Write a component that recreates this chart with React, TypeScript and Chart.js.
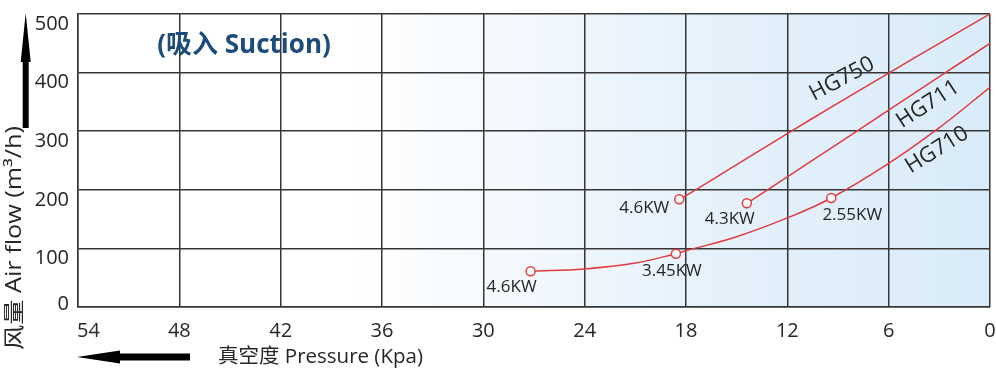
import React, { useEffect, useRef } from 'react';
import { Chart, registerables } from 'chart.js';

Chart.register(...registerables);

// ---------- data ----------
const pressureTicks = [54, 48, 42, 36, 30, 24, 18, 12, 6, 0];
const flowTicks = [0, 100, 200, 300, 400, 500];

const hg750Pressure = [18.4, 18, 15, 12, 9, 6, 3, 0];
const hg750Flow = [184, 190, 243, 296, 348, 399, 450, 500];
const hg750Power = ['4.6KW', '', '', '', '', '', '', ''];

const hg711Pressure = [14.4, 12, 9, 6, 3, 0];
const hg711Flow = [177, 222, 279, 336, 393, 450];
const hg711Power = ['4.3KW', '', '', '', '', ''];

const hg710Pressure = [27.2, 24, 21, 18.6, 18, 15, 12, 9.4, 6, 3, 0];
const hg710Flow = [61, 65, 75, 91, 96, 120, 152, 186, 245, 306, 375];
const hg710Power = ['4.6KW', '', '', '3.45KW', '', '', '', '2.55KW', '', '', ''];

const curveNames = ['HG750', 'HG711', 'HG710'];
const curveNamePressure = [8.76, 3.67, 3.14];
const curveNameFlow = [389, 346, 268];

const titleText = '(吸入 Suction)';
const xTitleText = '真空度 Pressure (Kpa)';
const yTitleText = '风量 Air flow (m³/h)';

// ---------- styles ----------
const FONT = '"Open Sans", "Noto Sans CJK SC", sans-serif';
const RED = '#e23b3d';
const GRID = '#363636';
const TEXT = '#262626';
const powerOffsets: Record<string, [number, number][]> = {
  HG750: [[-35, 9]],
  HG711: [[-17, 16]],
  HG710: [[-19, 16], [-4, 17], [21, 17]],
};
const curveNameAngles = [-28, -33, -32];

const decor = {
  id: 'decor',
  beforeDraw(chart: any) {
    const { ctx, chartArea: a } = chart;
    const g = ctx.createLinearGradient(a.left, 0, a.right, 0);
    g.addColorStop(0, '#ffffff');
    g.addColorStop(0.3, '#ffffff');
    g.addColorStop(0.7, '#e5f1fb');
    g.addColorStop(1, '#d9ecf9');
    ctx.save();
    ctx.fillStyle = g;
    ctx.fillRect(a.left, a.top, a.right - a.left, a.bottom - a.top);
    ctx.restore();
  },
  afterDraw(chart: any) {
    const { ctx } = chart;
    const xs = chart.scales.x;
    const ys = chart.scales.y;
    ctx.save();

    // tick labels
    ctx.fillStyle = TEXT;
    ctx.font = `20px ${FONT}`;
    ctx.textBaseline = 'middle';
    xs.ticks.forEach((t: any) => {
      const px = xs.getPixelForValue(t.value);
      if (t.value === 54) {
        ctx.textAlign = 'left';
        ctx.fillText(String(t.value), px - 1, 331);
      } else {
        ctx.textAlign = 'center';
        ctx.fillText(String(t.value), px, 331);
      }
    });
    ctx.textAlign = 'right';
    ys.ticks.forEach((t: any) => {
      const py = ys.getPixelForValue(t.value);
      ctx.fillText(String(t.value), 69, py + (t.value === 0 ? -3 : 10));
    });

    // title
    ctx.fillStyle = '#1b4c7c';
    ctx.font = `bold 26px ${FONT}`;
    ctx.textAlign = 'center';
    ctx.fillText(titleText, 244, 46);

    // axis titles
    ctx.fillStyle = TEXT;
    ctx.font = `20.5px ${FONT}`;
    ctx.textAlign = 'left';
    ctx.fillText(xTitleText, 218, 357);
    ctx.save();
    ctx.translate(15, 238);
    ctx.rotate(-Math.PI / 2);
    ctx.scale(1.2, 1);
    ctx.font = `21px ${FONT}`;
    ctx.textAlign = 'center';
    ctx.fillText(yTitleText, 0, 0);
    ctx.restore();

    // arrows
    ctx.fillStyle = '#000';
    ctx.fillRect(22.7, 58, 6, 70);
    ctx.beginPath();
    ctx.moveTo(25.7, 13);
    ctx.lineTo(30.7, 62);
    ctx.lineTo(20.7, 62);
    ctx.closePath();
    ctx.fill();
    ctx.fillRect(115, 353.5, 75, 7);
    ctx.beginPath();
    ctx.moveTo(77, 357);
    ctx.lineTo(120, 350.5);
    ctx.lineTo(120, 363.5);
    ctx.closePath();
    ctx.fill();

    // power labels
    ctx.fillStyle = TEXT;
    ctx.font = `17px ${FONT}`;
    ctx.textAlign = 'center';
    chart.data.datasets.forEach((ds: any, di: number) => {
      const meta = chart.getDatasetMeta(di);
      const offs = powerOffsets[ds.label] || [];
      let k = 0;
      ds.power.forEach((p: string, i: number) => {
        if (!p) return;
        const el = meta.data[i];
        const o = offs[k++] || [0, 16];
        ctx.fillText(p, el.x + o[0], el.y + o[1]);
      });
    });

    // curve names
    ctx.font = `22px ${FONT}`;
    curveNames.forEach((n, i) => {
      const px = xs.getPixelForValue(curveNamePressure[i]);
      const py = ys.getPixelForValue(curveNameFlow[i]);
      ctx.save();
      ctx.translate(px, py);
      ctx.rotate((curveNameAngles[i] * Math.PI) / 180);
      ctx.textAlign = 'center';
      ctx.fillText(n, 0, 0);
      ctx.restore();
    });

    ctx.restore();
  },
};

function makeSet(label: string, p: number[], f: number[], power: string[]) {
  return {
    label,
    power,
    data: p.map((v, i) => ({ x: v, y: f[i] })),
    borderColor: RED,
    borderWidth: 1.5,
    backgroundColor: '#ffffff',
    pointBackgroundColor: '#ffffff',
    pointBorderColor: RED,
    pointBorderWidth: 1.5,
    pointRadius: power.map((s) => (s ? 4.5 : 0)),
    pointHoverRadius: power.map((s) => (s ? 4.5 : 0)),
    tension: 0.4,
    fill: false,
  };
}

export default function App() {
  const ref = useRef<HTMLCanvasElement | null>(null);
  useEffect(() => {
    if (!ref.current) return;
    const chart = new Chart(ref.current, {
      type: 'line',
      data: {
        datasets: [
          makeSet('HG750', hg750Pressure, hg750Flow, hg750Power),
          makeSet('HG711', hg711Pressure, hg711Flow, hg711Power),
          makeSet('HG710', hg710Pressure, hg710Flow, hg710Power),
        ] as any,
      },
      options: {
        responsive: false,
        animation: false,
        devicePixelRatio: 1,
        layout: { padding: { top: 14, right: 6, left: 0, bottom: 0 } },
        plugins: { legend: { display: false }, tooltip: { enabled: false } },
        scales: {
          x: {
            type: 'linear',
            reverse: true,
            min: 0,
            max: 54,
            afterBuildTicks: (s: any) => {
              s.ticks = pressureTicks.map((v) => ({ value: v }));
            },
            afterFit: (s: any) => {
              s.height = 62;
            },
            ticks: { display: false },
            grid: { color: GRID, lineWidth: 1.5, drawTicks: false },
            border: { color: GRID, width: 1.5 },
          },
          y: {
            type: 'linear',
            min: 0,
            max: 500,
            afterBuildTicks: (s: any) => {
              s.ticks = flowTicks.map((v) => ({ value: v }));
            },
            afterFit: (s: any) => {
              s.width = 78;
            },
            ticks: { display: false },
            grid: { color: GRID, lineWidth: 1.5, drawTicks: false },
            border: { color: GRID, width: 1.5 },
          },
        },
      } as any,
      plugins: [decor],
    });
    return () => chart.destroy();
  }, []);
  return (
    <div style={{ position: 'absolute', left: 0, top: 0, width: 996, height: 369, background: '#fff' }}>
      <canvas ref={ref} width={996} height={369} style={{ display: 'block' }} />
    </div>
  );
}
